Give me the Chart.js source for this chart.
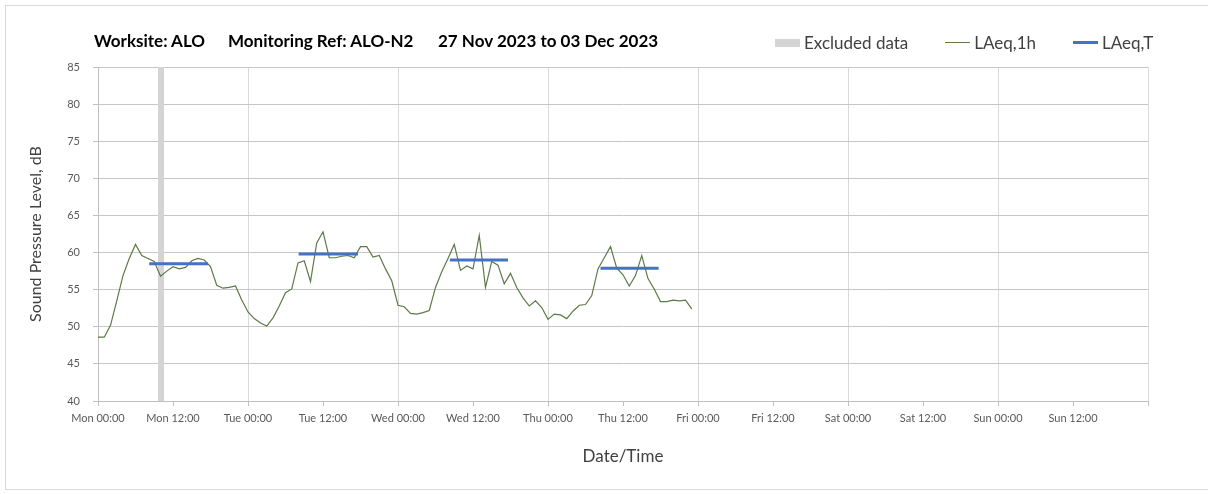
<!DOCTYPE html>
<html lang="en">
<head>
    <meta charset="UTF-8">
    <title>ALO-N2 Noise Monitoring</title>
    <script src="https://cdn.jsdelivr.net/npm/chart.js"></script>
    <style>
        body { margin: 0; background: #fff; font-family: Lato, sans-serif; }
        #wrap { position: relative; width: 1208px; height: 494px; overflow: hidden; }
        #frame { position: absolute; left: 5px; top: 5px; width: 1220px; height: 483px; border: 1px solid #d9d9d9; }
        #chartBox { position: absolute; left: 0; top: 0; width: 1208px; height: 494px; }
        .title { position: absolute; top: 30px; font-weight: bold; font-size: 17px; color: #000; white-space: nowrap; }
        #legend { position: absolute; left: 775px; top: 32px; display: flex; align-items: center; font-size: 17px; color: #404040; white-space: nowrap; }
        #legend .item { display: flex; align-items: center; margin-right: 37px; }
        #legend .item:last-child { margin-right: 0; }
        #legend .swatch { width: 25px; margin-right: 4px; }
    </style>
</head>
<body>
<div id="wrap">
    <div id="frame"></div>
    <div id="chartBox"><canvas id="noiseChart" width="1208" height="494"></canvas></div>
    <span class="title" style="left:94px">Worksite: ALO</span>
    <span class="title" style="left:228px">Monitoring Ref: ALO-N2</span>
    <span class="title" style="left:438px">27 Nov 2023 to 03 Dec 2023</span>
    <div id="legend"></div>
</div>

<script>
// hourly LAeq,1h values from Mon 00:00 (dB)
const laeq1h = [
    48.6, 48.6, 50.2, 53.5, 56.9, 59.2, 61.1, 59.6, 59.2, 58.8,
    56.8, 57.5, 58.1, 57.8, 58.0, 58.9, 59.2, 59.0, 58.1, 55.6,
    55.2, 55.3, 55.5, 53.6, 52.0, 51.1, 50.5, 50.1, 51.2, 52.8,
    54.6, 55.1, 58.6, 58.9, 56.1, 61.3, 62.8, 59.3, 59.3, 59.5,
    59.6, 59.3, 60.8, 60.8, 59.4, 59.6, 57.8, 56.2, 52.9, 52.7,
    51.8, 51.7, 51.9, 52.2, 55.3, 57.4, 59.2, 61.1, 57.6, 58.2,
    57.8, 62.3, 55.3, 58.8, 58.3, 55.8, 57.2, 55.3, 53.9, 52.8,
    53.5, 52.6, 51.0, 51.7, 51.6, 51.1, 52.1, 52.9, 53.0, 54.2,
    57.8, 59.3, 60.8, 57.9, 57.0, 55.5, 56.9, 59.6, 56.5, 55.1,
    53.4, 53.4, 53.6, 53.5, 53.6, 52.4
];

// daytime periods (hours from Mon 00:00) and their LAeq,T
const periodStart = [8.2, 32.1, 56.3, 80.4];
const periodEnd = [17.6, 41.6, 65.6, 89.7];
const periodLAeqT = [58.5, 59.8, 59.0, 57.9];

// excluded data window (hours from Mon 00:00)
const excludedFrom = [9.6];
const excludedTo = [10.6];

const tickLabels = [
    'Mon 00:00', 'Mon 12:00', 'Tue 00:00', 'Tue 12:00', 'Wed 00:00', 'Wed 12:00',
    'Thu 00:00', 'Thu 12:00', 'Fri 00:00', 'Fri 12:00', 'Sat 00:00', 'Sat 12:00',
    'Sun 00:00', 'Sun 12:00', ''
];

const hourlyPoints = laeq1h.map((v, i) => ({ x: i, y: v }));

const periodPoints = [];
periodLAeqT.forEach((v, i) => {
    periodPoints.push({ x: periodStart[i], y: v });
    periodPoints.push({ x: periodEnd[i], y: v });
    periodPoints.push({ x: periodEnd[i] + 1, y: null });
});

const excludedPoints = [];
excludedFrom.forEach((f, i) => {
    excludedPoints.push({ x: f, y: 85 });
    excludedPoints.push({ x: excludedTo[i], y: 85 });
});

const tickFont = { family: 'Lato', size: 11 };

const ctx = document.getElementById('noiseChart').getContext('2d');
const chart = new Chart(ctx, {
    type: 'line',
    data: {
        datasets: [
            {
                label: 'Excluded data',
                data: excludedPoints,
                fill: 'start',
                backgroundColor: '#d4d4d4',
                borderWidth: 0,
                pointRadius: 0,
                order: 3
            },
            {
                label: 'LAeq,1h',
                data: hourlyPoints,
                borderColor: '#5b7a46',
                borderWidth: 1.2,
                pointRadius: 0,
                tension: 0,
                order: 2
            },
            {
                label: 'LAeq,T',
                data: periodPoints,
                borderColor: '#4472c4',
                borderWidth: 3,
                pointRadius: 0,
                spanGaps: false,
                order: 1
            }
        ]
    },
    options: {
        responsive: false,
        maintainAspectRatio: false,
        animation: false,
        layout: { padding: { top: 67, right: 60, bottom: 0, left: 0 } },
        plugins: {
            legend: { display: false },
            tooltip: { enabled: false }
        },
        scales: {
            x: {
                type: 'linear',
                min: 0,
                max: 168,
                afterFit: s => { s.height = 93; },
                ticks: {
                    stepSize: 12,
                    autoSkip: false,
                    maxRotation: 0,
                    padding: 6,
                    color: '#595959',
                    font: tickFont,
                    callback: v => tickLabels[v / 12]
                },
                grid: {
                    color: c => (c.tick && c.tick.value % 24 === 0) ? '#d9d9d9' : 'rgba(0,0,0,0)',
                    tickColor: '#bfbfbf',
                    tickLength: 5
                },
                border: { color: '#bfbfbf' },
                title: {
                    display: true,
                    text: 'Date/Time',
                    color: '#404040',
                    font: { family: 'Lato', size: 17 },
                    padding: { top: 0, bottom: 27 }
                }
            },
            y: {
                min: 40,
                max: 85,
                afterFit: s => { s.width = 98; },
                ticks: {
                    stepSize: 5,
                    padding: 13,
                    color: '#595959',
                    font: tickFont
                },
                grid: {
                    color: '#c6c6c6',
                    tickColor: '#bfbfbf',
                    tickLength: 5
                },
                border: { color: '#bfbfbf' },
                title: {
                    display: true,
                    text: 'Sound Pressure Level, dB',
                    color: '#404040',
                    font: { family: 'Lato', size: 16 },
                    padding: { top: 26, bottom: 0 }
                }
            }
        }
    }
});

// html legend built from the datasets
const legendEl = document.getElementById('legend');
chart.data.datasets.forEach(ds => {
    const item = document.createElement('div');
    item.className = 'item';
    const sw = document.createElement('span');
    sw.className = 'swatch';
    if (ds.fill) {
        sw.style.height = '8px';
        sw.style.background = ds.backgroundColor;
    } else {
        sw.style.height = ds.borderWidth + 'px';
        sw.style.background = ds.borderColor;
    }
    item.appendChild(sw);
    item.appendChild(document.createTextNode(ds.label));
    legendEl.appendChild(item);
});
</script>
</body>
</html>
